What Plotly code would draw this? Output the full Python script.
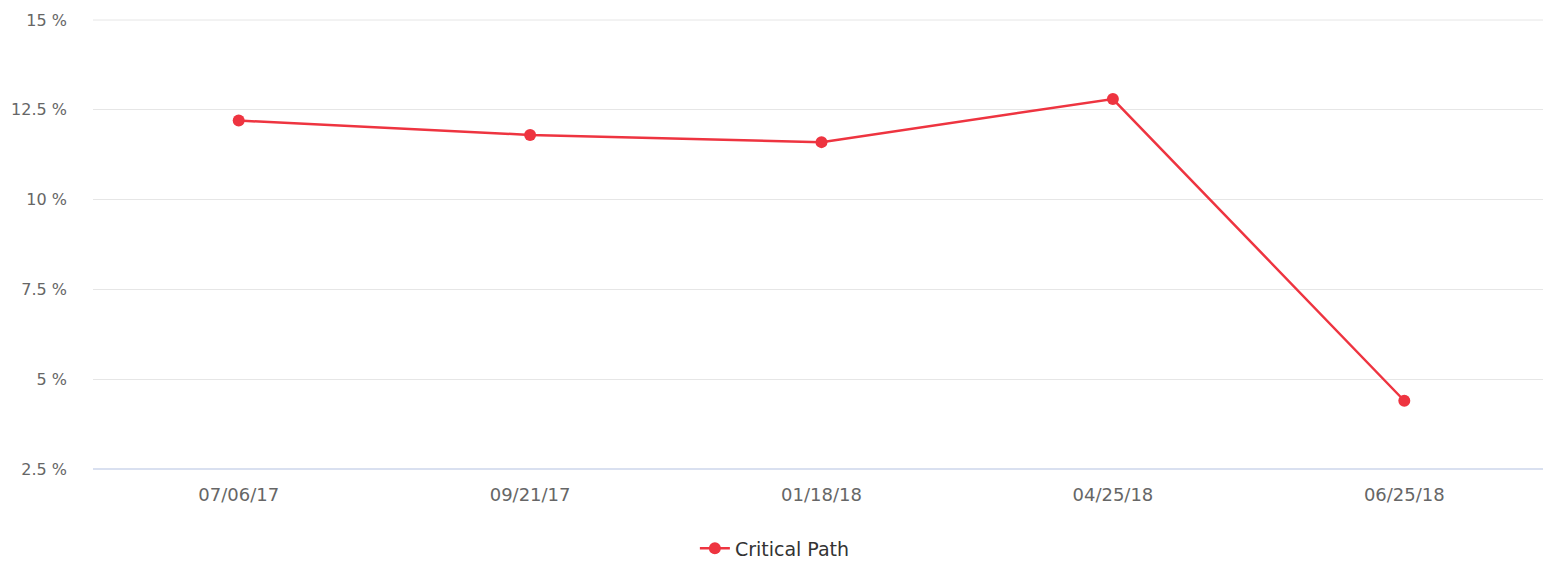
import plotly.graph_objects as go

dates = ["07/06/17", "09/21/17", "01/18/18", "04/25/18", "06/25/18"]
critical_path = [12.2, 11.8, 11.6, 12.8, 4.4]
y_ticks = [2.5, 5, 7.5, 10, 12.5, 15]
y_tick_labels = ["2.5 %", "5 %", "7.5 %", "10 %", "12.5 %", "15 %"]

RED = "#ee3440"
FONT = "DejaVu Sans"

fig = go.Figure()
fig.add_trace(go.Scatter(
    x=dates, y=critical_path, mode="lines+markers", name="Critical Path",
    line=dict(color=RED, width=2.5),
    marker=dict(color=RED, size=12),
))

# the page adds an 8px body margin, so the figure is 8px smaller than the window
fig.update_layout(
    width=1543, height=557,
    margin=dict(l=85, r=1, t=12, b=96),
    plot_bgcolor="white", paper_bgcolor="white",
    font=dict(family=FONT, color="#666666", size=18),
    showlegend=True,
    legend=dict(orientation="h", x=0.468, xanchor="center",
                yref="container", y=0.03, yanchor="middle",
                font=dict(size=19, color="#333333")),
    xaxis=dict(type="category", range=[-0.5, 4.5], showgrid=False, automargin=False,
               showline=False, zeroline=False, ticks="", ticklabelstandoff=13),
    yaxis=dict(range=[2.5, 15], tickvals=y_ticks, ticktext=y_tick_labels, automargin=False,
               tickfont=dict(size=16),
               showgrid=True, gridcolor="#e6e6e6", gridwidth=1,
               zeroline=False, showline=False, ticks="", ticklabelstandoff=25),
)
# top gridline and the bluish baseline (paper refs so they are not clipped)
fig.add_shape(type="line", xref="paper", yref="paper", x0=0, x1=1, y0=1, y1=1,
              line=dict(color="#e6e6e6", width=1), layer="below")
fig.add_shape(type="line", xref="paper", yref="paper", x0=0, x1=1, y0=0, y1=0,
              line=dict(color="#ccd6eb", width=1.5), layer="above")

fig.write_html("out.html")
